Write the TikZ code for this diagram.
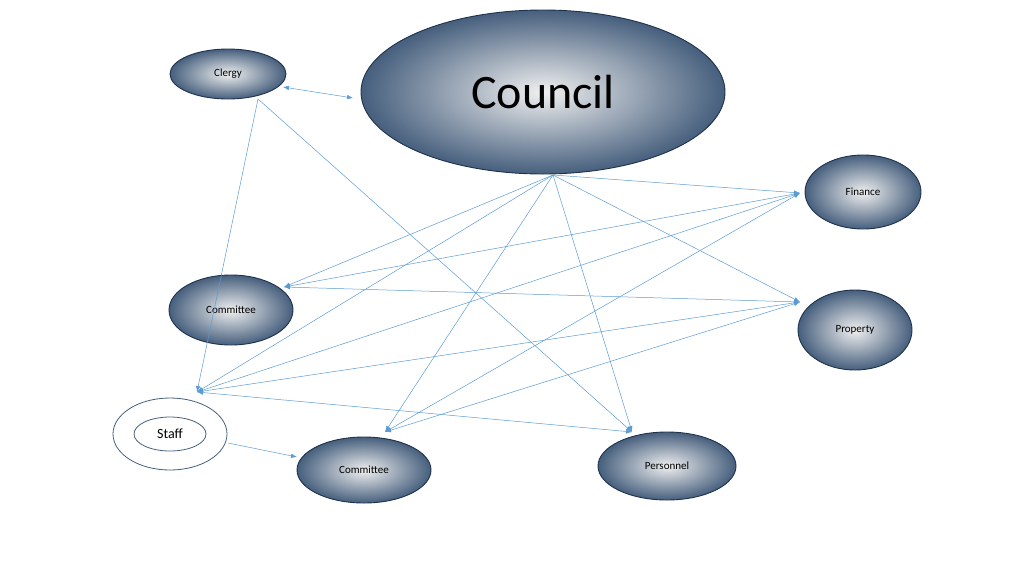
\documentclass[tikz,border=0pt]{standalone}
\usepackage{fontspec}
\setmainfont{Carlito}
\usetikzlibrary{shapes.geometric,arrows.meta}
\definecolor{ln}{RGB}{91,155,213}
\definecolor{edge}{RGB}{70,95,125}
\definecolor{rim}{RGB}{30,50,75}
\tikzset{
 bub/.style={ellipse,draw=rim,line width=0.9pt,inner sep=0pt,
   shading=radial,inner color=gray!12,middle color=gray!18,outer color=edge,
   font=\fontsize{11}{13}\selectfont},
 con/.style={ln,line width=0.5pt,-{Latex[length=6pt,width=4.5pt]}},
 bcon/.style={ln,line width=0.5pt,{Latex[length=6pt,width=4.5pt]}-{Latex[length=6pt,width=4.5pt]}}
}
\begin{document}
\begin{tikzpicture}[x=1pt,y=-1pt]
\useasboundingbox (0,0) rectangle (1024,576);
\node[bub,minimum width=364pt,minimum height=164pt,font=\fontsize{48}{52}\selectfont] (council) at (543,92) {Council};
\node[bub,minimum width=116pt,minimum height=50pt] (clergy) at (228,74) {Clergy};
\node[bub,minimum width=116pt,minimum height=74pt] (finance) at (863,192) {Finance};
\node[bub,minimum width=124pt,minimum height=70pt] (comA) at (231,310) {Committee};
\node[bub,minimum width=114pt,minimum height=80pt] (property) at (855,330) {Property};
\node[bub,minimum width=134pt,minimum height=66pt] (comB) at (364,470) {Committee};
\node[bub,minimum width=138pt,minimum height=68pt] (personnel) at (667,466) {Personnel};
\node[ellipse,draw=edge,line width=0.8pt,minimum width=114pt,minimum height=72pt] (staffo) at (170,434) {};
\node[ellipse,draw=edge,line width=0.8pt,minimum width=72pt,minimum height=34pt,font=\fontsize{14}{16}\selectfont] (staff) at (170,434) {Staff};
% anchor points
\coordinate (C) at (553,175);
\coordinate (F) at (800,193);
\coordinate (P) at (800,302);
\coordinate (K1) at (284,287);
\coordinate (S) at (197,392);
\coordinate (K2) at (385,432);
\coordinate (N) at (632,432);
\coordinate (Cl1) at (283,87);
\coordinate (Cl2) at (353,98);
\coordinate (Clb) at (258,99);
\coordinate (Sr) at (228,443);
\coordinate (K2l) at (297,457);
\draw[bcon] (Cl1) -- (Cl2);
\draw[con] (Clb) -- (S);
\draw[con] (Clb) -- (N);
\foreach \t in {F,P,K1,S,K2,N} \draw[con] (C) -- (\t);
\draw[bcon] (K1) -- (F);
\draw[bcon] (K1) -- (P);
\draw[bcon] (S) -- (F);
\draw[bcon] (S) -- (P);
\draw[bcon] (S) -- (N);
\draw[bcon] (K2) -- (F);
\draw[bcon] (K2) -- (P);
\draw[con] (Sr) -- (K2l);
\end{tikzpicture}
\end{document}
